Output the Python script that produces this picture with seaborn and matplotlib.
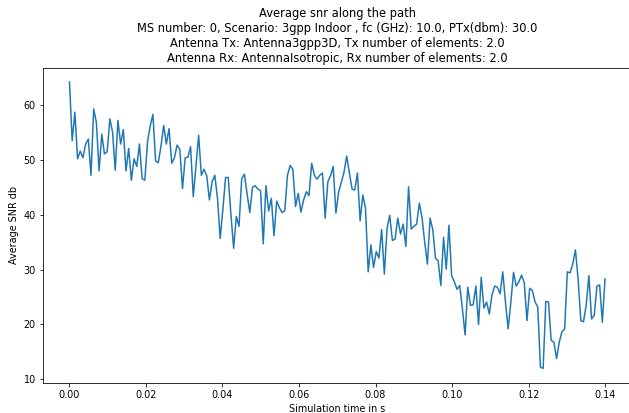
import numpy as np
import pandas as pd
import matplotlib
matplotlib.use("Agg")
import matplotlib.pyplot as plt
import seaborn as sns

# ---- data ----
snr_part1 = [64.2, 53.5, 58.7, 50.2, 51.6, 50.4, 52.9, 53.8, 47.2, 59.3, 56.8, 48.0, 54.7,
             51.1, 51.5, 57.5, 55.1, 48.1, 57.2, 52.9, 55.5, 48.0, 52.1, 46.3, 50.2, 48.8,
             52.9, 46.6, 46.3, 53.3, 56.2, 58.3, 49.8, 49.5, 52.5, 56.3, 52.9, 55.7]
snr_part2 = [49.4, 50.4, 52.7, 51.9, 44.8, 50.4, 50.5, 52.4, 43.3, 49.0, 54.5, 47.2, 48.3,
             47.1, 42.7, 46.0, 47.2, 43.0, 35.7, 41.0, 46.8, 46.8, 40.0, 33.9, 39.7, 37.9,
             46.6, 47.4, 43.8, 40.4, 45.0, 45.3, 44.7, 44.4, 34.7, 45.3, 40.7]
snr_part3 = [43.0, 36.2, 42.5, 41.3, 40.4, 40.7, 47.2, 49.0, 48.3, 41.5, 43.9, 40.5, 42.7,
             44.2, 43.5, 49.4, 47.2, 46.5, 47.2, 47.6, 39.4, 46.0, 47.1, 48.8, 40.3, 44.1,
             45.9, 47.7, 50.7, 47.7, 44.7, 44.5, 47.6, 38.9, 43.6, 41.2, 29.6]
snr_part4 = [34.5, 30.4, 33.3, 32.1, 37.3, 29.2, 37.5, 39.9, 35.3, 35.6, 39.4, 36.5, 38.3,
             34.2, 45.1, 37.4, 37.9, 38.3, 42.1, 39.5, 35.0, 31.0, 39.4, 37.3, 32.1, 31.6,
             27.1, 35.9, 30.1, 38.1, 28.9, 27.8, 26.4, 27.1, 22.9, 18.1, 26.8]
snr_part5 = [23.5, 23.6, 27.0, 20.0, 28.6, 23.0, 24.1, 21.9, 25.4, 27.0, 26.8, 25.6, 29.6,
             24.1, 19.2, 24.0, 29.5, 27.0, 27.8, 29.0, 27.6, 20.7, 26.6, 26.2, 24.1, 23.2,
             12.2, 12.0, 24.2, 24.1, 17.1, 16.8, 13.8, 16.8, 18.7, 19.2, 29.6, 29.4, 31.0,
             33.6, 28.3, 20.7, 20.5, 23.5, 28.9, 21.0, 21.7, 27.0, 27.2, 20.4, 28.3]

snr_db = snr_part1 + snr_part2 + snr_part3 + snr_part4 + snr_part5
t_end = 0.14
time_s = np.linspace(0.0, t_end, len(snr_db))

title_lines = [
    "Average snr along the path",
    "MS number: 0, Scenario: 3gpp Indoor , fc (GHz): 10.0, PTx(dbm): 30.0",
    "Antenna Tx: Antenna3gpp3D, Tx number of elements: 2.0",
    "Antenna Rx: AntennaIsotropic, Rx number of elements: 2.0",
]
x_label = "Simulation time in s"
y_label = "Average SNR db"

df = pd.DataFrame({"time": time_s, "snr": snr_db})

# ---- figure ----
plt.rcParams["font.family"] = ["DejaVu Sans"]
plt.rcParams["font.size"] = 9.6
W, H, DPI = 629, 413, 72
fig = plt.figure(figsize=(W / DPI, H / DPI), dpi=DPI)
left, right, top, bottom = 42.7, 631.8, 67.7, 382.7
ax = fig.add_axes([left / W, 1 - bottom / H, (right - left) / W, (bottom - top) / H])

sns.lineplot(data=df, x="time", y="snr", ax=ax, color="#1f77b4", linewidth=1.5)

ax.set_xticks([0.00, 0.02, 0.04, 0.06, 0.08, 0.10, 0.12, 0.14])
ax.set_xticklabels(["0.00", "0.02", "0.04", "0.06", "0.08", "0.10", "0.12", "0.14"])
ax.set_yticks([10, 20, 30, 40, 50, 60])
ax.set_xlabel(x_label)
ax.set_ylabel(y_label)
ax.set_title("\n".join(title_lines))

fig.savefig("out.png", dpi=DPI)
